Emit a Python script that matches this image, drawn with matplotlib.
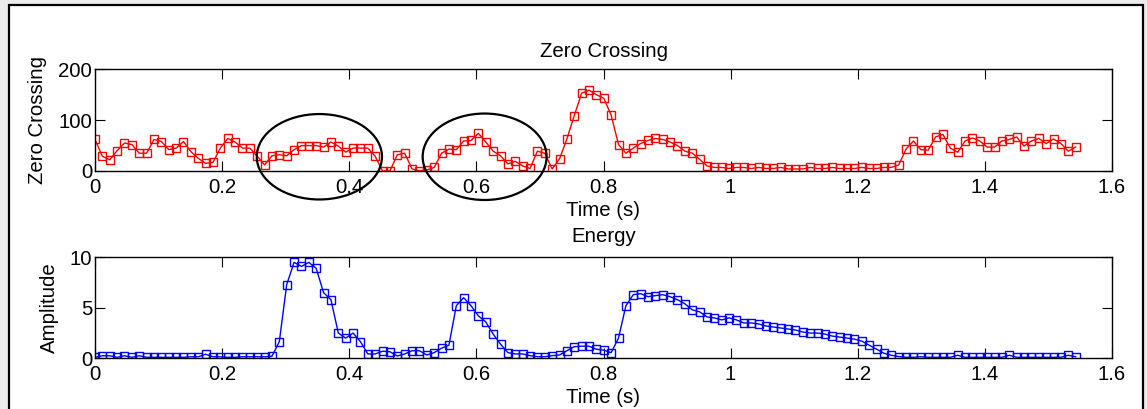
import numpy as np
import matplotlib
matplotlib.use('Agg')
import matplotlib.pyplot as plt
from matplotlib.patches import Ellipse, Rectangle

plt.rcParams['font.family'] = ['Liberation Sans', 'DejaVu Sans']

frame_step = 0.0116  # seconds between frames

zcr = [62, 29, 22, 40, 55, 52, 35, 35, 62, 58, 42, 45, 58, 38, 25, 15, 17, 45, 64, 57,
       45, 45, 29, 12, 30, 32, 30, 42, 50, 50, 50, 47, 57, 49, 37, 45, 45, 45, 29, 0,
       0, 32, 35, 4, 0, 2, 7, 35, 43, 42, 59, 60, 74, 57, 39, 30, 14, 19, 10, 5,
       39, 35, 4, 24, 63, 109, 153, 159, 150, 143, 110, 52, 35, 45, 54, 60, 64, 62, 57, 50,
       39, 35, 23, 10,
       7, 7, 5, 7, 7, 5, 7, 5, 5, 7, 4, 4, 4, 7, 5, 5, 7, 5, 5, 5, 7, 5, 5, 7, 7,
       12, 43, 59, 42, 41, 67, 72, 45, 37, 59, 65, 59, 47, 47, 59, 62, 67, 49, 59, 64,
       54, 63, 54, 39, 47]

energy = [0.1, 0.25, 0.25, 0.1, 0.25, 0.1, 0.25, 0.1, 0.1, 0.1, 0.1, 0.1, 0.1, 0.15, 0.15,
          0.4, 0.15, 0.15, 0.1, 0.1, 0.15, 0.15, 0.15, 0.15,
          0.2, 1.65, 7.3, 9.5, 9.1, 9.5, 8.9, 6.5, 5.8, 2.5, 2.0, 2.5, 1.65, 0.43, 0.43, 0.7,
          0.65, 0.23, 0.43, 0.75, 0.75, 0.33, 0.56, 1.0, 1.3, 5.2, 6.0, 5.2, 4.2, 3.6, 2.4,
          1.4, 0.56, 0.43, 0.43, 0.26, 0.16, 0.16, 0.26, 0.33, 0.75, 1.15, 1.2, 1.2, 0.9, 0.8,
          0.56, 2.0, 5.2, 6.3, 6.4, 6.1, 6.2, 6.3, 6.1, 5.8, 5.4, 4.8, 4.6, 4.1, 4.0, 3.8,
          4.0, 3.8, 3.5, 3.5, 3.4, 3.2, 3.1, 3.0, 2.9, 2.8, 2.6, 2.5, 2.5, 2.4, 2.2, 2.1,
          2.0, 1.9, 1.7, 1.3, 0.9, 0.5, 0.3, 0.17,
          0.1, 0.1, 0.15, 0.1, 0.1, 0.1, 0.1, 0.3, 0.1, 0.1, 0.1, 0.1, 0.1, 0.1, 0.3, 0.1,
          0.1, 0.1, 0.1, 0.1, 0.1, 0.1, 0.3, 0.15]

xticks = [0, 0.2, 0.4, 0.6, 0.8, 1, 1.2, 1.4, 1.6]
xticklabels = ['0', '0.2', '0.4', '0.6', '0.8', '1', '1.2', '1.4', '1.6']

# (centre time, centre value, width, height) of the hand-drawn circles
circles = [(0.353, 28, 0.197, 168), (0.613, 28, 0.195, 170)]

t = np.arange(len(zcr)) * frame_step

fig = plt.figure(figsize=(11.47, 4.09), dpi=100, facecolor='#ececec')
W, H = 1147, 409
fig.patches.append(Rectangle((9 / W, -0.05), (1143 - 9) / W, 1.05 - 5 / H,
                             transform=fig.transFigure, facecolor='white',
                             edgecolor='black', linewidth=1.6, zorder=-1))

ax1 = fig.add_axes([95 / W, 1 - 171 / H, 1017 / W, 101.7 / H])
ax2 = fig.add_axes([95 / W, 1 - 358.3 / H, 1017 / W, 101 / H])

fs = 14.7
ax1.plot(t, zcr, '-s', color='red', lw=1, ms=5.3, mfc='none', mec='red', mew=1)
ax1.set_ylim(0, 200)
ax1.set_yticks([0, 100, 200])
ax1.set_title('Zero Crossing', fontsize=fs, pad=9)
ax1.set_ylabel('Zero Crossing', fontsize=fs, labelpad=8)

ax2.plot(t, energy, '-s', color='blue', lw=1, ms=5.3, mfc='none', mec='blue', mew=1)
ax2.set_ylim(0, 10)
ax2.set_yticks([0, 5, 10])
ax2.set_title('Energy', fontsize=fs, pad=11)
ax2.set_ylabel('Amplitude', fontsize=fs, labelpad=8)

for ax in (ax1, ax2):
    ax.set_xlim(0, 1.6)
    ax.set_xticks(xticks)
    ax.set_xticklabels(xticklabels)
    ax.set_xlabel('Time (s)', fontsize=fs, labelpad=3)
    ax.tick_params(direction='in', length=7, width=0.8, top=True, right=True,
                   labelsize=fs)
    ax.tick_params(axis='x', pad=5)
    ax.tick_params(axis='y', pad=2)
    for s in ax.spines.values():
        s.set_linewidth(1)

for cx, cy, w, h in circles:
    ax1.add_patch(Ellipse((cx, cy), w, h, fill=False, edgecolor='black',
                          linewidth=1.6, clip_on=False, zorder=5))

fig.savefig('out.png', dpi=100, facecolor=fig.get_facecolor())
